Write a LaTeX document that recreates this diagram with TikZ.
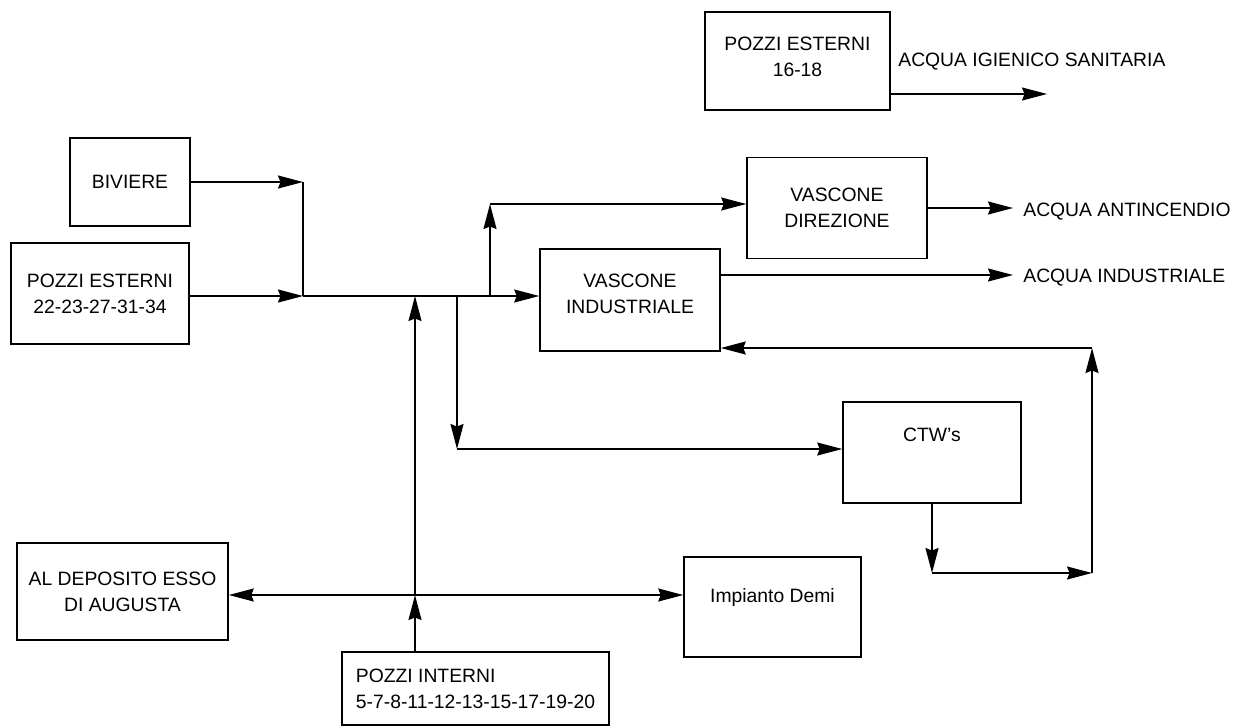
\documentclass[tikz,border=0pt]{standalone}
\usepackage{fontspec}
\setmainfont{Liberation Sans}
\usetikzlibrary{arrows.meta,positioning,calc}
\tikzset{
  tank/.style={draw, line width=0.9pt, align=center,
    font=\fontsize{11}{14.8}\selectfont},
  outlabel/.style={anchor=west, inner sep=0pt,
    font=\fontsize{11}{14.8}\selectfont},
  textlift/.style={text depth=#1},
  flow/.style={-{Stealth[length=5mm,width=2.6mm,inset=0.5mm]}, line width=0.9pt}
}

\begin{document}
\begin{tikzpicture}[x=0.02cm, y=-0.02cm,
  line/.style={line width=0.9pt}
]
  \useasboundingbox (0,0) rectangle (1236,727);

  % boxes
  \node[tank, minimum width=3.70cm, minimum height=1.96cm, textlift=0.18cm] (pe16) at (797.5,61) {POZZI ESTERNI\\16-18};
  \node[tank, minimum width=2.40cm, minimum height=1.76cm] (biv) at (130,182) {BIVIERE};
  \node[tank, minimum width=3.56cm, minimum height=2.02cm] (pe22) at (100,293.5) {POZZI ESTERNI\\22-23-27-31-34};
  \node[tank, minimum width=3.60cm, minimum height=2.02cm] (vd) at (837,208) {VASCONE\\DIREZIONE};
  \node[tank, minimum width=3.60cm, minimum height=2.04cm, textlift=0.24cm] (vi) at (630,300) {VASCONE\\INDUSTRIALE};
  \node[tank, minimum width=3.56cm, minimum height=2.02cm, textlift=0.70cm] (ctw) at (932,452.5) {CTW's};
  \node[tank, minimum width=3.54cm, minimum height=2.00cm, textlift=0.48cm] (demi) at (772.5,607) {Impianto Demi};
  \node[tank, minimum width=4.22cm, minimum height=1.94cm] (dep) at (122.5,591.5) {AL DEPOSITO ESSO\\DI AUGUSTA};
  \node[tank, align=left, minimum width=5.34cm, minimum height=1.46cm] (pint) at (475.5,688.5) {POZZI INTERNI\\5-7-8-11-12-13-15-17-19-20};

  % outputs
  \node[outlabel] (igien) at (898,62) {ACQUA IGIENICO SANITARIA};
  \node[outlabel] (antinc) at (1023,212) {ACQUA ANTINCENDIO};
  \node[outlabel] (indust) at (1023,278) {ACQUA INDUSTRIALE};

  % junctions
  \coordinate (igend) at (1047,94);
  \coordinate (antend) at (1013,208);
  \coordinate (indend) at (1013,275);
  \coordinate (jtop) at (303,182);
  \coordinate (jmain) at (303,296);
  \coordinate (jin) at (415,296);
  \coordinate (jdown) at (457,296);
  \coordinate (jup) at (490,296);
  \coordinate (cup) at (490,204);
  \coordinate (cdown) at (457,449);
  \coordinate (cross) at (415,595);
  \coordinate (cbl) at (932,573);
  \coordinate (cbr) at (1092,573);
  \coordinate (ctr) at (1092,348);

  \draw[flow] (pe16.east |- igend) -- (igend);
  \draw[flow] (biv.east) -- (jtop);
  \draw[line] (jtop) -- (jmain);
  \draw[flow] (pe22.east |- jmain) -- (jmain);
  \draw[flow] (jmain) -- (vi.west |- jmain);
  \draw[flow] (jup) -- (cup);
  \draw[flow] (cup) -- (vd.west |- cup);
  \draw[flow] (vd.east) -- (antend);
  \draw[flow] (vi.east |- indend) -- (indend);
  \draw[flow] (jdown) -- (cdown);
  \draw[flow] (cdown) -- (ctw.west |- cdown);
  \draw[flow] (ctw.south) -- (cbl);
  \draw[flow] (cbl) -- (cbr);
  \draw[flow] (cbr) -- (ctr);
  \draw[flow] (ctr) -- (vi.east |- ctr);
  \draw[flow] (pint.north -| cross) -- (cross);
  \draw[flow] (cross) -- (jin);
  \draw[flow] (cross) -- (dep.east |- cross);
  \draw[flow] (cross) -- (demi.west |- cross);
\end{tikzpicture}
\end{document}
